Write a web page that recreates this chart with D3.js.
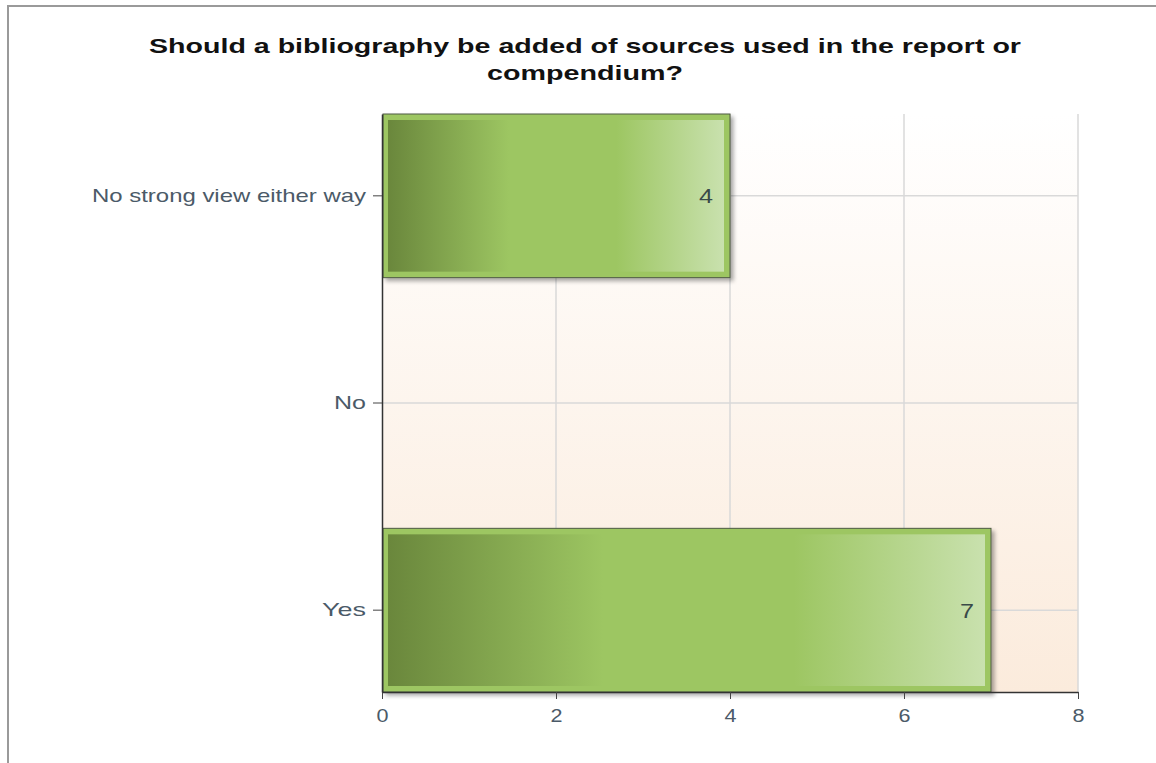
<!DOCTYPE html>
<html>
<head>
<meta charset="utf-8">
<script src="https://cdn.jsdelivr.net/npm/d3@7"></script>
<style>
body { margin: 0; background: #fff; }
svg { display: block; font-family: "Liberation Sans", Arial, sans-serif; }
</style>
</head>
<body>
<svg id="chart"></svg>
<script>
var categories = ["No strong view either way", "No", "Yes"];
var counts = [4, 0, 7];
var xTicks = [0, 2, 4, 6, 8];
var titleLines = ["Should a bibliography be added of sources used in the report or", "compendium?"];

var width = 1156;
var height = 763;
var plotL = 382, plotR = 1078, plotT = 114, plotB = 692;

var svg = d3.select("svg#chart")
    .attr("width", width)
    .attr("height", height);

var defs = svg.append("defs");

// plot background: white -> pale peach
var bg = defs.append("linearGradient")
    .attr("id", "bg").attr("x1", 0).attr("y1", 0).attr("x2", 0).attr("y2", 1);
bg.append("stop").attr("offset", "0%").attr("stop-color", "#ffffff");
bg.append("stop").attr("offset", "100%").attr("stop-color", "#fbebdc");

// bar fill: dark green -> green -> pale
var barGrad = defs.append("linearGradient")
    .attr("id", "barGrad").attr("x1", 0).attr("y1", 0).attr("x2", 1).attr("y2", 0);
barGrad.append("stop").attr("offset", "0%").attr("stop-color", "#6a873c");
barGrad.append("stop").attr("offset", "36%").attr("stop-color", "#9dc662");
barGrad.append("stop").attr("offset", "68%").attr("stop-color", "#9dc662");
barGrad.append("stop").attr("offset", "100%").attr("stop-color", "#c9e1ae");

var shadow = defs.append("filter").attr("id", "shadow")
    .attr("x", "-5%").attr("y", "-5%").attr("width", "115%").attr("height", "120%");
shadow.append("feGaussianBlur").attr("in", "SourceAlpha").attr("stdDeviation", 2);
shadow.append("feOffset").attr("dx", 3).attr("dy", 3).attr("result", "b");
shadow.append("feComponentTransfer").append("feFuncA").attr("type", "linear").attr("slope", 0.35);
var merge = shadow.append("feMerge");
merge.append("feMergeNode");
merge.append("feMergeNode").attr("in", "SourceGraphic");

// outer frame lines
svg.append("line").attr("x1", 8).attr("x2", 8).attr("y1", 5).attr("y2", height)
    .attr("stroke", "#9a9a9a").attr("stroke-width", 2);
svg.append("line").attr("x1", 7).attr("x2", width).attr("y1", 6).attr("y2", 6)
    .attr("stroke", "#9a9a9a").attr("stroke-width", 2);

// title (the original glyphs are drawn wide, so stretch them)
var titleWidths = [872, 196];
svg.append("g").selectAll("text").data(titleLines).join("text")
    .attr("x", 585)
    .attr("y", function(d, i) { return 53 + i * 27; })
    .attr("text-anchor", "middle")
    .attr("font-size", 21).attr("font-weight", "bold").attr("fill", "#111")
    .attr("textLength", function(d, i) { return titleWidths[i]; })
    .attr("lengthAdjust", "spacingAndGlyphs")
    .text(function(d) { return d; });

var x = d3.scaleLinear().domain([0, 8]).range([plotL, plotR]);
var y = d3.scaleBand().domain(categories).range([plotT, plotB])
    .paddingInner(0.21).paddingOuter(0);

svg.append("rect")
    .attr("x", plotL).attr("y", plotT)
    .attr("width", plotR - plotL).attr("height", plotB - plotT)
    .attr("fill", "url(#bg)");

// grid
svg.append("g").selectAll("line").data(xTicks.slice(1)).join("line")
    .attr("x1", function(d) { return x(d); }).attr("x2", function(d) { return x(d); })
    .attr("y1", plotT).attr("y2", plotB)
    .attr("stroke", "#d9d9d9").attr("stroke-width", 1.5);
svg.append("g").selectAll("line").data(categories).join("line")
    .attr("x1", plotL).attr("x2", plotR)
    .attr("y1", function(d) { return y(d) + y.bandwidth() / 2; })
    .attr("y2", function(d) { return y(d) + y.bandwidth() / 2; })
    .attr("stroke", "#d9d9d9").attr("stroke-width", 1.5);

// bars
var data = categories.map(function(c, i) { return { cat: c, v: counts[i] }; })
    .filter(function(d) { return d.v > 0; });

var bars = svg.append("g").selectAll("g").data(data).join("g");
bars.append("rect")
    .attr("x", plotL + 1)
    .attr("y", function(d) { return y(d.cat); })
    .attr("width", function(d) { return x(d.v) - plotL - 1; })
    .attr("height", y.bandwidth())
    .attr("fill", "#9dc662")
    .attr("stroke", "#4f5a45").attr("stroke-width", 1)
    .attr("filter", "url(#shadow)");
bars.append("rect")
    .attr("x", plotL + 6)
    .attr("y", function(d) { return y(d.cat) + 6; })
    .attr("width", function(d) { return x(d.v) - plotL - 12; })
    .attr("height", y.bandwidth() - 12)
    .attr("fill", "url(#barGrad)");
bars.append("text")
    .attr("x", function(d) { return x(d.v) - 17; })
    .attr("y", function(d) { return y(d.cat) + y.bandwidth() / 2; })
    .attr("dy", "0.35em")
    .attr("text-anchor", "end")
    .attr("font-size", 21).attr("fill", "#3a4a48")
    .attr("textLength", 14).attr("lengthAdjust", "spacingAndGlyphs")
    .text(function(d) { return d.v; });

// axes
var xAxis = svg.append("g")
    .attr("transform", "translate(0," + plotB + ")")
    .call(d3.axisBottom(x).tickValues(xTicks).tickSize(7).tickSizeOuter(0));
xAxis.select(".domain").attr("stroke", "#333").attr("stroke-width", 1.5);
xAxis.selectAll(".tick line").attr("stroke", "#444");
xAxis.selectAll(".tick text")
    .attr("font-size", 19).attr("fill", "#4b5a68").attr("font-family", "Liberation Sans, Arial, sans-serif")
    .attr("dy", "1.05em")
    .attr("textLength", 12).attr("lengthAdjust", "spacingAndGlyphs");

var yLabelWidths = [274, 32, 44];
var yAxis = svg.append("g")
    .attr("transform", "translate(" + plotL + ",0)")
    .call(d3.axisLeft(y).tickSize(9).tickSizeOuter(0));
yAxis.select(".domain").attr("stroke", "#333").attr("stroke-width", 1.5);
yAxis.selectAll(".tick line").attr("stroke", "#444");
yAxis.selectAll(".tick text")
    .attr("font-size", 19).attr("fill", "#4b5a68").attr("font-family", "Liberation Sans, Arial, sans-serif")
    .attr("x", -16)
    .attr("textLength", function(d, i) { return yLabelWidths[i]; })
    .attr("lengthAdjust", "spacingAndGlyphs");
</script>
</body>
</html>
